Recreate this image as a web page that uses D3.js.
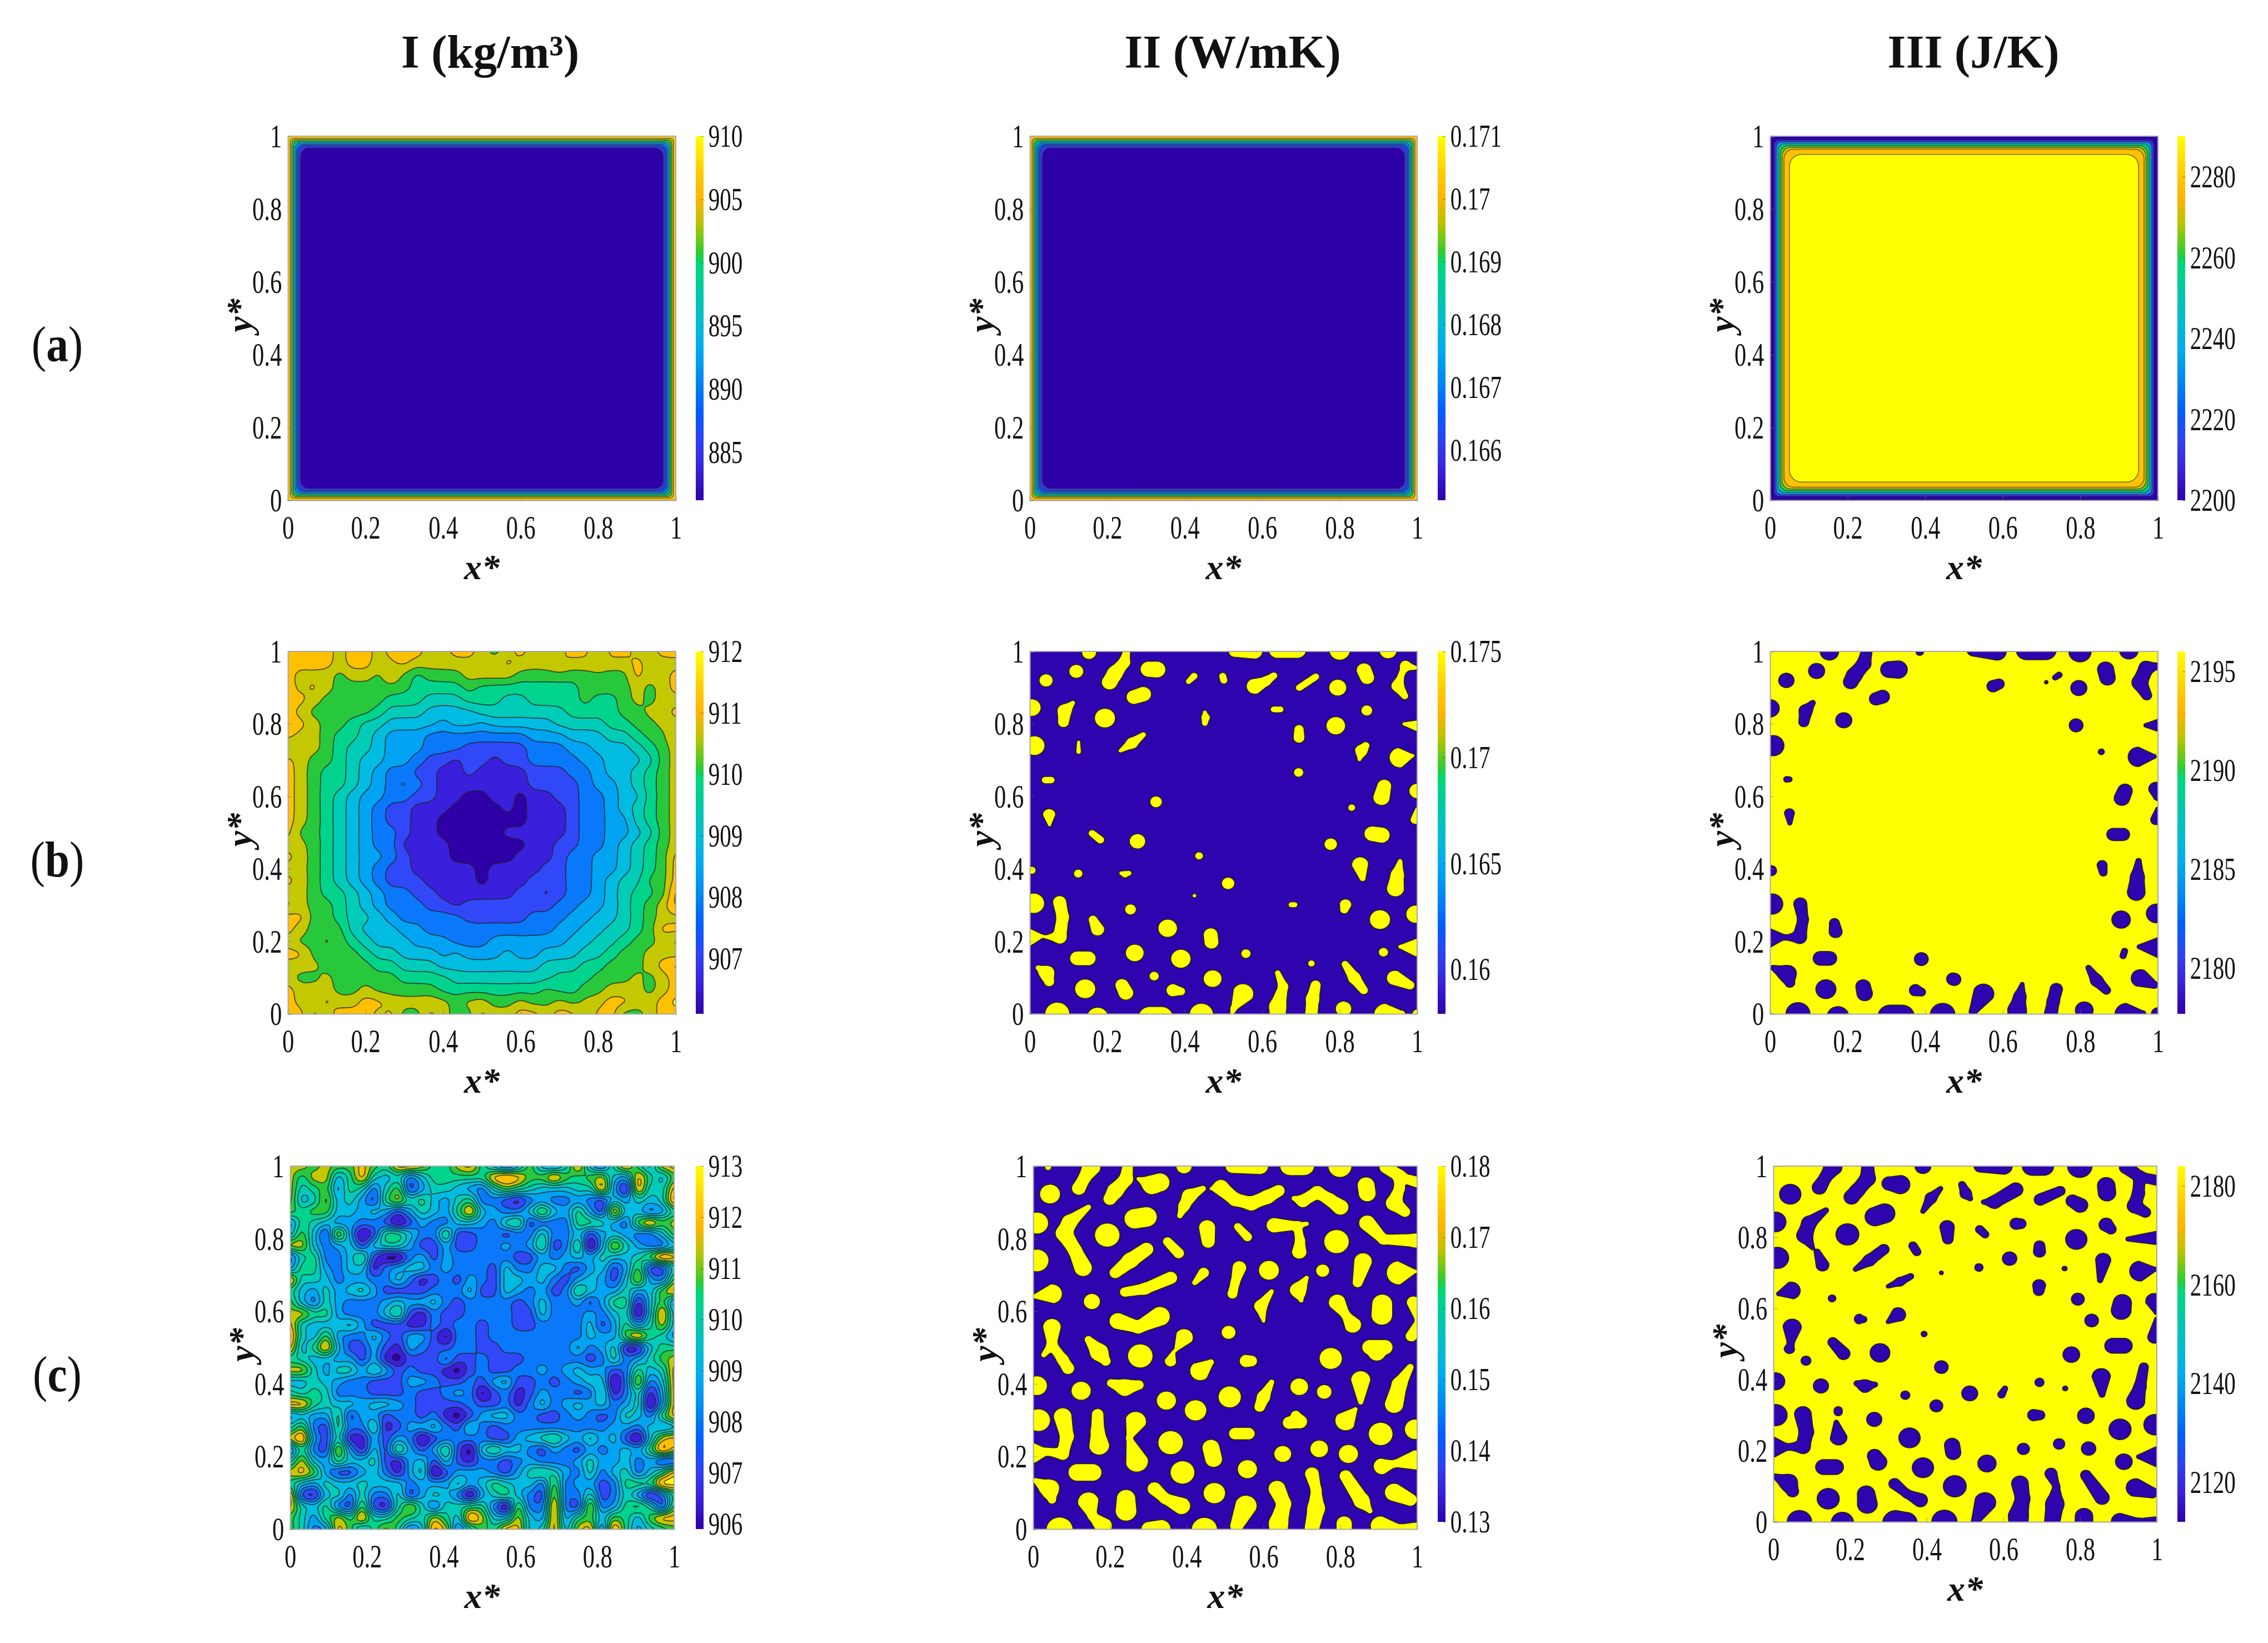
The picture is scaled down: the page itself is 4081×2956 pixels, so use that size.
<!DOCTYPE html>
<html>
<head>
<meta charset="utf-8">
<script src="https://cdn.jsdelivr.net/npm/d3@7"></script>
<style>
body { margin: 0; background: #fff; }
text { font-family: "Liberation Serif", serif; fill: #111; }
</style>
</head>
<body>
<script>
var columnTitles = ["I (kg/m³)", "II (W/mK)", "III (J/K)"];
var rowLetters = ["a", "b", "c"];
var unitTicks = [0, 0.2, 0.4, 0.6, 0.8, 1];

// colorbars, row by row: [bottom, top] and labelled ticks
var barDomains = [[881.2, 910], [0.1652, 0.171], [2200, 2290],
                  [906.1, 912], [0.1579, 0.175], [2177.7, 2196],
                  [905.9, 913], [0.13, 0.18], [2112, 2184]];
var barTicks = [[885, 890, 895, 900, 905, 910], [0.166, 0.167, 0.168, 0.169, 0.17, 0.171], [2200, 2220, 2240, 2260, 2280],
                [907, 908, 909, 910, 911, 912], [0.16, 0.165, 0.17, 0.175], [2180, 2185, 2190, 2195],
                [906, 907, 908, 909, 910, 911, 912, 913], [0.13, 0.14, 0.15, 0.16, 0.17, 0.18], [2120, 2140, 2160, 2180]];
var barStops = [0, 0.08, 0.156, 0.25, 0.325, 0.42, 0.49, 0.57, 0.65, 0.68, 0.76, 0.83, 0.9, 1];
var barColors = ["#2e00a8", "#3a20d8", "#3040f0", "#0060ff", "#0088f0", "#00acf0", "#00bcd0", "#00c8a8", "#00d878", "#30cc30", "#b8c400", "#ffb400", "#ffcc00", "#ffff00"];

// filled contour bands, low to high
var bandColors = ["#2e00a8", "#3a1fdc", "#3048f8", "#0a78fa", "#00a4f2", "#00bce0", "#00ccb8", "#00d48c", "#28c83c", "#c4c800", "#ffc000", "#ffff00"];
var indigo = "#2e04ae", yellow = "#ffff00";

// row (a): distance from the wall of each contour, and the value it encloses
var wallInsetsI = [0, 0.006, 0.010, 0.014, 0.018, 0.022, 0.026, 0.032];
var wallValuesI = [907, 904, 901, 897, 892, 888, 885, 881.2];
var wallInsetsII = [0, 0.006, 0.010, 0.014, 0.018, 0.022, 0.026, 0.032];
var wallValuesII = [0.1703, 0.1698, 0.169, 0.1682, 0.1672, 0.1665, 0.166, 0.1652];
var wallInsetsIII = [0, 0.011, 0.016, 0.021, 0.026, 0.031, 0.036, 0.05];
var wallValuesIII = [2200, 2212, 2235, 2255, 2262, 2272, 2278, 2290];

// panel I(b): band index read on a 31x31 grid, top row is y*=1
var gridIb = [
"a a a a 9 a a 9 a a a 9 9 a a 9 8 9 a 9 9 9 a a 8 a a 9 9 a a",
"a a a a 9 a a 9 9 a 9 9 9 9 9 9 9 a 9 9 9 a 9 9 a 9 9 a 9 9 9",
"a 9 9 9 8 9 9 8 a 8 7 8 8 8 9 9 9 9 8 8 8 8 8 8 8 8 8 a 9 9 a",
"a 9 a 9 8 8 8 8 8 8 7 7 7 7 8 7 7 7 7 7 7 7 7 8 8 8 8 9 8 9 a",
"a a 9 8 8 8 8 8 7 7 7 6 6 6 7 7 7 6 6 7 7 7 7 8 7 7 8 9 8 9 9",
"a 9 8 8 8 8 8 7 6 6 6 5 5 5 5 6 6 6 6 6 6 6 7 7 7 7 8 8 9 9 a",
"a a 9 8 8 7 6 6 5 5 5 5 4 5 5 4 5 5 5 5 5 6 6 6 6 7 7 8 8 9 9",
"a 9 9 8 7 7 6 5 4 4 4 3 3 3 3 3 3 3 3 4 4 4 5 5 5 6 6 7 8 8 a",
"8 9 9 8 7 6 6 5 4 4 4 3 3 3 2 2 2 2 2 3 3 3 4 4 5 5 5 6 7 8 9",
"a 9 8 8 7 6 5 5 4 4 3 2 2 1 2 2 1 2 2 3 3 3 3 4 4 5 5 5 6 8 9",
"a 9 8 7 7 6 5 4 3 3 2 2 1 1 2 1 1 1 1 2 2 2 3 3 4 5 5 6 7 8 9",
"a 9 8 7 7 6 5 4 3 4 3 2 1 1 1 1 1 1 1 2 2 2 2 3 4 4 5 6 7 8 9",
"a 9 8 7 6 5 4 4 3 3 2 2 1 1 0 0 1 1 0 1 1 2 2 3 3 4 5 5 7 8 9",
"a 9 8 7 6 5 4 3 2 2 1 1 1 0 0 0 0 1 0 1 1 1 2 3 3 4 5 6 7 8 9",
"a 9 8 7 6 5 4 3 2 2 1 1 0 0 0 0 0 0 0 1 1 1 2 3 3 4 4 6 7 8 9",
"a 8 8 7 6 5 4 3 3 2 1 1 0 0 0 0 0 1 1 1 1 1 2 3 3 4 4 5 6 8 9",
"9 9 8 7 6 5 4 3 3 1 1 1 1 0 0 0 0 0 0 1 1 2 2 3 3 4 5 6 7 8 9",
"a 9 8 7 6 5 4 4 3 2 1 1 1 0 0 0 0 0 1 1 1 2 3 3 4 4 5 6 7 8 a",
"9 9 8 7 6 5 4 3 2 2 1 1 1 1 1 0 1 1 1 1 2 2 3 3 4 4 5 6 7 8 a",
"a 9 8 7 6 5 4 3 2 2 2 1 1 1 1 0 1 1 1 2 2 2 3 3 4 5 6 6 8 8 a",
"9 9 8 7 7 6 5 4 3 3 2 2 1 1 1 1 1 1 2 2 1 2 3 3 4 5 6 7 7 8 b",
"8 9 8 8 7 6 5 4 3 3 3 2 2 1 2 2 2 2 2 2 2 3 3 4 4 5 6 7 8 9 b",
"a a 8 8 7 6 6 5 4 3 3 3 3 3 2 2 2 2 2 3 3 3 4 4 5 5 6 7 8 9 9",
"a 9 8 8 8 6 5 5 5 4 4 3 3 3 3 3 3 3 3 3 3 4 4 5 5 6 6 7 8 a a",
"9 8 8 9 8 7 6 5 5 5 4 4 4 3 3 3 4 4 4 4 4 4 5 5 6 6 7 8 8 9 8",
"a a 8 8 8 8 7 6 6 5 5 5 4 5 4 4 4 5 4 4 5 5 5 6 6 7 8 8 9 9 9",
"9 9 9 8 8 8 8 7 7 6 6 6 5 5 5 5 5 5 5 5 6 6 6 7 7 8 8 8 9 a b",
"9 8 8 9 8 8 8 8 8 7 7 7 7 6 6 6 6 6 6 6 6 7 7 7 8 8 8 9 8 9 a",
"a 9 9 9 8 8 9 8 8 8 8 8 7 7 7 7 7 7 7 7 8 7 7 8 8 9 9 9 8 9 a",
"a 9 9 a 9 9 a a 9 9 9 9 9 8 9 9 8 8 9 8 8 9 8 9 9 a a 9 9 a b",
"a a 8 9 a a a 9 a 8 8 a 9 8 8 a 9 9 a a 9 a a 8 a a 8 8 9 a a"];

// panel I(c): band index read on a 33x33 grid
var gridIc = [
"9 9 8 9 8 8 a 8 7 a a 9 7 7 9 a 7 5 3 5 8 5 4 6 a 5 3 7 a 7 5 9 a",
"9 7 9 9 5 7 a 6 5 6 3 5 7 7 7 7 7 a b a 8 8 a 8 7 8 9 5 4 a 7 5 8",
"9 6 7 8 4 7 6 3 6 8 2 4 6 6 5 4 3 6 8 7 6 5 5 5 6 6 a 4 1 a 6 6 a",
"9 5 6 9 5 6 4 2 7 9 6 7 5 4 6 7 3 3 2 1 3 4 3 3 4 3 2 5 4 6 5 6 b",
"8 7 8 8 5 5 4 5 4 2 4 6 5 4 7 a 5 4 3 3 5 8 5 4 7 4 2 a 5 5 3 4 7",
"4 7 6 5 4 4 3 3 2 0 2 4 3 3 5 5 4 3 6 7 2 3 3 3 7 7 6 4 3 8 a 8 9",
"5 8 5 2 9 4 0 2 7 7 5 3 3 7 2 2 3 3 2 3 3 6 3 3 5 2 4 5 4 3 3 5 8",
"9 9 5 3 4 5 2 5 6 6 4 2 2 4 2 2 3 3 4 3 4 7 2 3 7 0 4 9 6 4 3 3 5",
"3 6 7 3 3 5 7 2 0 0 3 4 2 4 3 3 3 3 3 2 2 4 3 4 5 4 6 5 5 6 8 b a",
"4 7 7 4 3 5 5 1 3 4 5 5 3 4 3 3 3 2 5 3 3 5 5 3 2 4 5 2 4 8 2 2 6",
"a 6 6 5 3 4 4 3 3 5 3 1 2 3 2 4 3 2 5 5 4 5 3 2 4 5 4 2 5 9 4 3 8",
"7 5 4 6 4 5 6 4 2 2 2 2 3 3 3 5 2 2 5 4 3 4 2 3 7 5 4 4 6 4 5 8 a",
"8 5 3 6 4 3 3 3 4 5 4 4 5 3 2 3 3 3 3 2 3 5 3 3 4 2 4 7 7 1 5 8 4",
"9 9 7 7 4 3 3 3 5 7 2 1 3 2 2 3 3 3 3 2 2 5 3 3 3 4 3 5 6 0 5 a 5",
"a 6 5 5 5 6 4 2 2 2 1 1 3 2 3 3 2 3 3 2 2 3 3 3 3 5 2 4 7 4 6 9 5",
"b 6 5 8 4 3 3 5 3 2 4 4 2 0 3 3 2 3 3 3 3 3 3 3 3 5 4 4 8 a 7 6 4",
"a 5 7 a 5 2 2 4 2 1 4 3 2 2 3 3 2 2 3 3 3 3 3 3 5 3 4 6 1 1 5 7 7",
"7 6 5 5 4 4 2 4 1 0 2 2 2 4 2 2 3 2 2 2 3 3 3 3 3 2 3 6 3 4 6 8 9",
"9 9 6 4 6 6 4 6 4 2 3 2 2 1 0 2 3 2 2 3 3 4 3 4 5 4 4 2 3 7 5 6 a",
"5 5 6 5 4 3 3 2 2 2 4 4 3 2 2 3 2 4 5 2 2 3 2 3 4 5 5 0 3 9 3 5 a",
"7 6 7 6 3 3 3 2 2 2 3 2 2 3 4 3 0 2 3 1 2 4 3 3 2 3 6 1 3 6 1 4 a",
"a a 7 6 5 5 4 5 5 4 3 2 2 2 2 3 2 2 3 1 3 5 3 4 5 4 5 3 4 6 0 4 a",
"4 5 4 4 7 2 4 4 2 3 3 2 3 1 0 2 4 5 5 3 3 2 2 3 4 3 2 3 6 5 3 7 a",
"6 8 3 2 7 3 3 6 1 2 4 4 5 3 2 5 3 2 3 3 3 3 3 3 3 3 3 4 4 3 5 4 5",
"9 b 4 2 6 1 1 4 2 4 3 0 2 3 3 3 3 2 2 4 5 6 7 5 4 6 4 5 2 0 5 9 a",
"3 7 3 2 9 4 1 5 2 7 4 2 4 7 2 0 5 7 5 5 3 2 4 3 2 4 3 4 5 4 7 b 9",
"6 9 5 4 7 5 5 6 2 1 4 5 2 5 2 1 3 3 2 3 4 3 3 3 4 6 4 4 5 3 4 2 2",
"9 a 8 4 2 2 4 5 3 1 4 6 0 2 4 4 4 3 2 4 6 7 6 4 3 6 3 5 6 3 5 7 a",
"7 5 4 6 5 5 6 5 5 5 3 4 4 4 6 4 5 7 6 5 5 3 8 3 4 4 2 3 7 7 7 b b",
"a 2 1 5 6 3 6 3 3 6 2 4 6 5 3 0 4 6 7 5 3 2 9 3 3 6 2 3 6 4 1 3 7",
"a 6 5 7 3 2 8 2 1 6 9 6 3 6 6 7 7 3 0 8 3 3 a 3 2 9 3 4 7 8 6 2 8",
"8 6 4 7 9 7 a 6 6 8 7 6 9 7 5 b 9 5 5 9 5 4 a 4 7 8 5 8 7 5 8 a a",
"8 6 3 4 a 8 5 7 9 7 3 5 b 9 3 6 8 7 a a 5 6 a 5 9 a 3 b 7 4 6 7 8"];

// panels with sharp two-colour regions. Each region is a chain of x*, y*, half-width
// in hundredths of the unit square
var regionsIIb = [
[15.3,99.7,1.5],[25,100,.6,24.4,97,1.1,22,94,1.6,20.6,91.5,1.7],[12,94.5,1.5],[30.7,95.1,1.8,32.8,95,1.9],[4.2,92,1.4],
[41,91.7,.4,42.4,93.2,.6],[49.8,93.2,.6,50.1,92,.6],[58.1,90.4,1.8,61,91.8,.9,63,93.3,.6],[69.6,90,.6,73.8,93,.6],
[64,100.5,2,69,100.5,2],[80,100.3,2.3],[52.9,100,1.2,58,100,1.7],[92.5,100.3,1.9],[86.3,94.8,1.6,87.1,92.8,1.5],
[99.4,95.5,.3,97,96,1,96,93.8,.4,95,90.5,1.2,96.8,87.7,.6],[79.5,90,1.9],[26.9,87.4,1.6,29.3,88.2,1.7],[.5,84.5,2],
[11.1,85.8,.3,9,83.6,1.4,8.7,80.5,1.1],[19.4,81.6,2.3],[45.4,81.7,.8,45.2,80.2,.3,45.2,83.2,.2],[63,84,.5,64.7,84,.5],
[87,83.7,1.1],[79,79.5,2.1],[96.6,80,.15,100,79.5,1.2],[69.5,78.5,.9,69.5,76.2,1.1],[1.2,74,2.3],[23.4,72.6,.2,26.4,74.7,1.1,29.3,77,.4],
[12.6,75,.1,12.6,72.3,.3],[85.1,70.2,.2,85.6,72.6,1.2,86.7,74,.7],[95.6,70.7,2.4,98.8,71.2,.2],[69.4,66.6,.9],[4,64.5,.6,5.5,64.5,.6],
[91.5,62.8,1.5,90.8,59.7,1.8],[100,61.5,1.7],[83.1,56.9,.6],[32.6,58.5,1.2],[5,54.9,1.3,5.1,52.1,.1],[100,56.5,.2,99.5,53.6,.9],
[88.4,49.7,1.7,90.8,49.3,1.8],[16.1,49.8,.6,18.2,48,.7],[27.8,47.6,1.7],[77.7,46.8,1.3],[43.7,43.6,.7],[85.3,41.1,1.8,85.9,37.4,.5],
[95.6,42.1,.3,94.9,38.4,1.3,94.4,34.6,1.9],[.5,39.6,.7],[12.5,38.7,.8],[23.6,38.8,.2,25.6,38.8,.2,24.6,38.4,.5],[51.2,36,1.3],[1,30.5,2.4],
[42.5,32.6,.2],[7.7,30.8,1.4,8.5,26.7,1.2,7.7,21.2,1.4,4.3,21.2,.2],[0,21.2,2.1,3.2,21.4,.2],[26,28.8,1.1],[67.5,30.1,.4,68.4,30.1,.4],
[81.5,30.1,1.2,81.2,28.8,.8],[90.4,26,2.3],[99.6,27.5,2.1],[16.3,26,.8,17.5,23.3,1.4],[35.6,23.6,2.1],[46.7,21.8,1.5,46.9,19.8,1.5],
[95.6,18.5,.2,99.6,18.3,2.1],[91.3,17,.9],[12.3,15.3,1.6,15.1,15.3,1.6],[27.1,16.8,2],[39,15.2,2.2],[55.8,16.6,.9],[72.7,13.9,.55],
[2.2,12.7,.4,4.3,11.3,1.6,5,8.9,1],[32.1,10.4,.9],[47.2,9.7,2],[81.4,13.7,.6,83.8,9.9,1.2,86.2,6.5,.8],[94.2,9.9,1.7,98.1,7.9,.9],
[14.3,6.9,2.3],[23.8,7.9,1.4,24.8,5.8,1.6],[37,6.5,1.4,39,6.2,.8],[55,5.5,2.4,52.6,1.4,.4,52.2,0,.2],[64,11.3,.4,65.4,7.5,.9,64,2,1.8,64,0,1.8],
[73.8,7.9,1,73,4.1,1.3,72.7,0,1.3],[81,1.4,1.7],[7.1,0,2.8],[17.5,-1,2.4],[31,-1,2.6,34,-1,2.6],[44.3,-.2,2.7],[92,-.3,2.8,96,0,.6],[100,0,.9]];

var regionsIIc = [
[3.9,99.7,.5],[15.1,99.7,2.1,13.3,96.6,1.2,11.9,93.9,1.5],[24.6,99.7,1.1,24.2,96.4,1.4,21.4,93.2,1.7,20,91,1.4],[27.4,96.5,.2,30.9,94.9,2.2,33,95.5,2.2],
[4.4,92.3,2.3],[39.3,100,1.7],[52,100,1.6,59,100,1.9],[67,100.2,2.4,70.5,100.2,2.4],[79.9,100,2.7],
[91.9,99.7,1.4,95.4,97.3,1.3,95.4,93.9,1,94,89.8,1.7,96.8,87.4,1.1],[95.4,97,.9,100,95.6,1.2],[86.7,94.7,1.9,87,92.5,1.9],
[44.2,93.8,.5,40.7,91.8,1.5,39.3,89,1.1,38.2,86.3,.4],[46.3,93.8,.1,48.8,94.1,1.7,52.6,90.8,1.4,56.8,89.7,1.5,61,91.5,1.5,63.9,93.2,1.3],
[68,91.1,.4,70.2,90.4,1.3,74,92.8,1.3,77.2,90.8,1.3,80,88.7,1.8],[14.4,88.7,.4,9.5,84.6,1.6,8.1,81.5,1.8,10.9,76.8,1.4,13,72,2],
[26.5,85.5,2.4,29.5,86,2.4],[1,84.3,2.6],[19.3,81,2.9],[45.3,83,1.8,45.6,79.2,1.4],[53.3,83.3,.7,55.8,80.5,.9],
[62.8,83.7,1.7,68.8,83.6,.8,69.5,79.5,.9,69.3,76.4,1.6],[71.2,84.1,.3,68.8,83.6,.5],[79,79.2,2.9],[87,84.3,1.8,91.2,79.8,1,99.6,79.5,1.5,101,79.5,1.5],
[35,79.2,.9,37.9,76,1.1],[21.4,70.6,1.2,25.3,74,1.7,29.5,77.1,1.5],[61.4,71.3,2.3],[1,74,2.7],[85.9,73.7,2,84.5,67.9,1],[95.3,70.6,2.9,99.5,71,.2],
[75.4,71.2,1.4],[42.1,67.9,.4,44.4,70.6,1.1],[53.7,72,1.5,52.6,67.9,.8,51.9,64.8,1],[23.9,65.3,1,29.1,66.2,1.2,35.8,69.2,1.4],
[.4,64.1,.3,4.9,64.8,2.3],[71.2,69.2,.3,69.1,65.8,1.8,69.8,63,.3],[15.3,62.7,1.8],[62.1,65.5,.3,59.3,61.4,1.3,60,57.3,.15],
[79.2,62.4,1.9,81.4,59,.8,83.2,56.3,1.9],[90.9,62,2.3,90.8,59,2.4],[99,62.4,1.4,100,57.6,.2],[100,57.3,.2,98.5,53.2,1.2],
[22.1,57.3,1.9,27.4,55.6,1.3,33,58.6,2.3],[4.9,55.6,2,4.9,50.8,.9,2.8,48,.4],[4.9,50.8,.9,7.7,46.7,1.1,9.1,44.3,1.3],[50.9,54.2,1.5],
[39.3,52.8,2,37.2,49.4,.2],[14.4,52.2,.7,17.2,48.7,2,18.9,46.3,1],[87.7,50.1,1.7,91.6,50.1,1.7],[89.5,48.7,2],[27.9,47.7,2.9],
[36.5,48.7,.2,35.8,46.3,1.2],[77.5,47,2.6],[55.5,46.3,1.4,56.8,46.3,1.2],[46.3,46,.5,43.5,43.6,2.3],[85.3,41,2.2,85.3,35,.4],
[98.2,44.6,.6,95.4,39.9,1.6,94,34.4,2.1],[1,39.5,2.3],[12.5,38.1,2.2],[20.3,40.2,.8,23.9,39,1.9,27.5,39.7,1],[69.3,39.2,2],[75.8,37.8,1.6],
[51.2,36.4,2.6],[62.1,40.5,.4,60,36.4,1.3,59,33.7,1.1],[34.7,35.4,2.2],[42.3,32.7,2.5],[83.9,33,.3,81.4,29.9,2.4],
[66.7,29.3,1.4,69.5,29.6,1.4,68.4,31.3,1],[1.4,30,2.7],[7.7,31,2,8.8,25.5,1.4,7.7,20.7,1.2,3.5,21.4,.7],[.4,21,2.4,3.5,21.2,.6],
[16.8,31.6,1.2,16.8,26.9,1.4,17.2,23.1,2.3],[26.7,29.6,2.4,25,25.1,.4,27,18.7,2.6],[35.8,23.8,2.9],[52.6,26.3,1.3,56.1,26.3,1.3],
[90.5,26.2,2.8],[99.5,27.5,2.4],[46.3,22.4,1.9,47,19.3,1.9],[65,20.7,1.9],[74.5,22.1,2],[82.1,20.7,2.2],[90.9,17.3,1.9,94,18,.6,99.6,19,2.4],
[11.5,15.6,2,15.5,15.6,2],[38.9,15.6,2.8],[55.8,16.5,2.2],[.4,13.5,.3,4.2,11.1,2.2,4.9,8.1,.8],[72.6,15.2,1.5,73.7,10.8,1,73.7,5.7,1.9,72.6,.2,1.6],
[81.4,14.6,1.3,85.6,7.7,1.7,87.7,5,.4],[94,10.1,2.1,98.2,8.1,1.4],[31.6,11.1,1.5,34.4,8.4,1.1,38.6,6.4,2],[47.2,9.9,2.5],
[63.5,11.1,1.9,65.3,7,1.5,63.9,1.6,2.1,63.9,0,2.1],[14.4,7.4,2.4,15.4,3.6,.8,18.2,.9,2],[24.2,8.4,2.1,24.2,5,2.4],[55.4,6.4,2.5,53,.9,1.4],
[6.9,-.2,3.1],[30.2,0,1.7,33.3,0,2.2],[44.6,-.2,3],[81,1.5,1.7,81,-1,1.7],[90.5,.9,2.3,95.4,.2,.7,99.6,.5,1]];

var regionsIIIb = [
[15.3,100,2],[24.9,100,1,24.2,96.6,1.3,21.7,93.4,1.5,20.8,91.6,1.5],[12,94.6,1.7],[30.7,95,1.8,33,95,2],[4.2,92,1.6],[38.6,99.9,.6],
[52.5,100.5,1.4,58.5,100,2],[66.2,100.5,2.4,71,100.5,2.4],[79.9,100,2.5],[92.5,100.3,2],[86.5,95,1.7,87,92.7,1.6],
[100,96,.4,97,95.4,1.4,95.3,91.4,1.5,97.1,87.9,.9],[57.5,90.4,1.2,59,91,1],[73.5,92.8,.3,74.5,93.5,.4],[71.2,91.5,.1],[79.6,89.9,1.7],
[27.3,86.9,1.3,29,87.5,1.4],[0,84.3,2],[11,85.8,.3,9.2,83.6,1.2,8.7,80.5,.9],[19,81,1.7],[78.9,79.6,1.4],[96.9,79.6,.15,100,79.6,1.3],
[.8,74,2.4],[85.4,72.3,.4],[95,70.9,2.3,99,71,.2],[4.3,64.7,.4,5,64.7,.3],[91.5,61.5,1.5,90.7,59.5,1.6],[99.5,62,1.5,100,60,.8],
[5,55.3,.9,5.1,52.6,.15],[100,56.5,.2,99.5,53.6,1],[88.5,49.5,1.3,91,49.5,1.3],[.3,39.5,1],[85.6,41,.9,85.9,39,.6],
[95,42.2,.3,94.7,37.8,1.3,94.4,33.6,1.9],[.5,30.3,2.4],[7.8,30.3,1.3,8.5,26,.9,7.6,21.2,1.3,4,21,.2],[0,21,2.2,3.8,21.2,.2],
[16.6,25,.9,16.9,22.7,1.3],[90.5,26,2],[99.6,27.7,2.2],[95.2,18.5,.2,100,18.3,2.4],[91.4,17.3,.4,91,16,.4],[13,15.3,1.5,15.3,15.3,1.5],[39,15.1,1.4],
[.8,12.7,.3,4.4,11,1.9,5.1,8.6,.9],[47.2,9.6,1.3,47.5,9.5,1.3],[82.1,12.7,.3,84.2,9.2,1.1,86.7,6.5,.7],[95.5,9.8,2,99,8,.6],[14.4,6.8,2.2],
[24,7.5,1.5,24.4,5.6,1.6],[37.5,6.5,1.2,39,6,.7],[55,5.5,2.3,52.3,.6,.6],[65,8.2,.1,64.4,4.8,1.1,63.7,1,1.9,63.7,0,1.9],[73.8,6.8,1.2,73,3.4,1.1,72.4,0,1.3],
[81,1,1.9],[7.2,0,2.7],[17.5,-.8,2.4],[31,-.8,2.8,34,-.8,2.8],[44.5,-.3,2.8],[92,-.2,2.7,96,0,.5],[100,0,1.3]];

var regionsIIIc = [
[39,100,1.7],[15.5,99.7,2,13.7,97,1.1,12,94,1.5],[24.6,99.7,1.2,24.6,96.5,1.5,21.8,93,1.4,20.4,91.3,1.6],[30.2,95.1,1.5,33,94.8,2.2],[4.4,92.1,2.4],
[54,100,1.3,60,100,1.9],[67.5,100,2.2,70.5,100,2.2],[79.9,100,2.8],[92,99.7,1.4,95.5,97,1.1,95.2,92.3,1.1,94.2,88.8,1.4,97,87,1],[95.5,97,.9,100,96,1],
[86.8,94.5,1.9,87,92.5,1.9],[43.6,93.7,.2,41.1,91,1,39,87.3,.2],[49.2,94.8,.5,50.2,92.3,1,51.3,90.9,.3],[54.8,89.9,.2,57.6,89.9,1.3,63.2,93.4,1.5],
[69.6,90.6,1.2,74.8,93,.9],[78,90.2,1.3,80,89,1.6],[26.5,85.8,2.2,29,86.7,2.3],[.5,84.3,2.4],[13.7,87.6,.3,9.3,84,1.4,8.2,80.5,1.6,10.2,77,.15],[19.3,80.8,2.6],
[45.3,82.8,1.5,45.5,79.5,1],[53.8,82.2,.7,55.2,80.8,.6],[63.3,83.8,1.2,64.5,83.8,1],[86.8,83.5,1.5,88,82.3,1],[79,79.4,2.4],[92.5,79.5,.2,100,79.8,1.5],
[36.4,77.6,.7,37.4,75.9,.7],[69.4,77.6,1,69.4,76,1.2],[11.4,75.9,.4,12.8,72.2,1.3],[21.4,71,.2,25,73.5,1.1,28.8,76.6,1],[1,74.2,2.6],[61.6,74,1.5],
[86,73.5,1.6,85.2,67.9,.3],[95.7,70.5,2.4,99.5,71,.2],[53.6,71.5,.7],[43.8,70,.15],[75.9,71.2,.25,76,71.2,.25],[29.9,66.2,.1,33,67.5,.7,35.8,69,.4],
[69.3,66.4,1.3,69.2,65,1],[1.4,64.1,.2,4.6,65,2],[15.3,62.8,.6],[79.4,62.6,1.3],[91,61.5,2,90.7,59.5,2.2],[99.3,62,1.8,100,59,.4],[29.9,56.2,.1,32.5,58.2,1.6],
[22.5,57,1,23.5,56.9,.5],[83,56.6,1.4],[4.9,54.6,2,4.5,50,.4,4.2,48.7,1],[100,57,.2,99.4,52,1.4],[39.3,52.8,.4],[15.5,50.5,.9,18.3,47.3,1.3],[27.8,47.5,2.2],
[88.5,49.5,1.7,91.5,49.5,1.7],[77.7,47,1.8],[8.5,45.3,.9],[43.8,43.5,1.4],[.6,39.5,2],[85.5,40.7,2,85.7,35.8,.4],[96.6,43.5,.8,95.6,37.9,1.1,94.5,34,2],
[12.4,38.2,1.6],[21.8,38.9,.4,23.9,38.2,1.3,26.5,38.6,.3],[69.4,39.2,.8],[76.1,37.5,.3],[51.2,36.1,1.7],[60.4,37.5,.3,59.5,35.8,.6],[34.4,35.6,.8],[42.5,32.6,1.3],
[16.9,31.3,.7,16.9,30.9,.7],[.6,30,2.6],[7.7,30.2,1.8,8.6,25.3,1.4,7.7,21.1,1.4,3.9,21.1,.4],[.3,21,2.4,3.8,21,.4],[26.3,28.8,1.6],[67.9,30,1.2,69.5,30,.9],
[81.5,29.8,1.8],[16.4,28,.2,17,23.8,1.8],[90.4,26,2.5],[99.5,27.3,2.5],[35.5,23.6,2.4],[46.6,21.5,1.6,46.9,19.5,1.6],[74.5,21.9,1.1],[65.2,20.5,1.2],[82.2,20.6,1.5],
[95.3,18.3,.2,99.7,18.3,2.4],[91.4,16.9,1.8],[26.4,18.5,1.5,27.3,16.8,1.9],[13.1,15.4,1.7,16.2,15.4,1.7],[55.7,16.4,2],[39,15.2,2.4],[.4,12.8,.3,3.9,11,1.9,5,8.6,1.2],
[72.4,13.5,1.2,73.8,10,.4,73.4,5.1,1.9,72.7,0,1.6],[81.5,13.1,1,85.7,6.8,1.5],[94.5,9.6,2.1,98.7,8.2,1.1],[31.6,10.7,1.1,34.8,7.9,.7,38.3,6.1,1.5],[47.3,10,2.6],
[64.3,10.7,1.8,65,6.5,1.4,63.9,1.6,2.1,63.9,0,2.1],[14.3,6.5,2.5],[24.2,7.8,1.9,24.5,5,2.2],[55.2,5.4,2.4,52.7,.2,.7],[6.8,0,2.8],[18,-.2,2.5],[32,-.3,3.1,34.5,-.3,2.6],
[44.6,0,2.9],[81,1.5,1.9,81,0,1.9],[90.5,0,2,95.4,0,.5,99.5,0,1]];

var W = 4081, H = 2956;
var svg = d3.select("body").append("svg").attr("width", W).attr("height", H).style("display", "block");
var defs = svg.append("defs");

var colX = [[518, 1216], [1853, 2550], [3185, 3883]];
var rowY = [[245, 900], [1172, 1824], [2098, 2751]];
var barX = [1252, 2587, 3918];
var NARROW = "scale(0.72,1)";

// colormap shared by the walls and the bars
var cmap = d3.scaleLinear().domain(barStops).range(barColors).interpolate(d3.interpolateRgb).clamp(true);

defs.append("linearGradient").attr("id", "bar").attr("x1", 0).attr("x2", 0).attr("y1", 1).attr("y2", 0)
    .selectAll("stop").data(barStops).enter().append("stop")
    .attr("offset", function(d){ return d; })
    .attr("stop-color", function(d, i){ return barColors[i]; });

var ringLine = d3.line().curve(d3.curveBasisClosed);

function panelFrame(col, row){
    var xr = colX[col].slice(), yr = rowY[row].slice();
    if(row == 2 && col == 1) xr[0] = 1859;
    if(row == 2 && col == 2){ xr[0] = 3191; xr[1] = 3881; yr[1] = 2738; }
    if(row == 2 && col == 0){ xr[0] = 522; xr[1] = 1213; }
    return {x: d3.scaleLinear().domain([0, 1]).range(xr), y: d3.scaleLinear().domain([0, 1]).range([yr[1], yr[0]])};
}

function drawWalls(g, x, y, insets, values, domain){
    var t = d3.scaleLinear().domain(domain).range([0, 1]);
    g.selectAll("rect.wall").data(insets).enter().append("rect").attr("class", "wall")
        .attr("x", function(d){ return x(d); })
        .attr("y", function(d){ return y(1 - d); })
        .attr("width", function(d){ return x(1 - d) - x(d); })
        .attr("height", function(d){ return y(d) - y(1 - d); })
        .attr("rx", function(d, i){ return i ? x(0.006 + d * 0.5) - x(0) : 0; })
        .attr("fill", function(d, i){ return cmap(t(values[i])); })
        .attr("stroke", "#333")
        .attr("stroke-opacity", 0.7)
        .attr("stroke-width", 1.5);
}

function catmull(a, b, c, d, t){
    return 0.5 * (2 * b + (c - a) * t + (2 * a - 5 * b + 4 * c - d) * t * t + (3 * b - a - 3 * c + d) * t * t * t);
}

// resample the read grid so that the traced contours come out round
function refine(flat, w, h, k){
    var fw = (w - 1) * k + 1, fh = (h - 1) * k + 1, out = new Array(fw * fh);
    function at(i, j){
        return flat[Math.max(0, Math.min(h - 1, j)) * w + Math.max(0, Math.min(w - 1, i))];
    }
    for(var fj = 0; fj < fh; fj++){
        var j = Math.floor(fj / k), v = fj / k - j;
        for(var fi = 0; fi < fw; fi++){
            var i = Math.floor(fi / k), u = fi / k - i;
            var col = [];
            for(var q = -1; q <= 2; q++){
                col.push(catmull(at(i - 1, j + q), at(i, j + q), at(i + 1, j + q), at(i + 2, j + q), u));
            }
            out[fj * fw + fi] = catmull(col[0], col[1], col[2], col[3], v);
        }
    }
    return {values: out, w: fw, h: fh};
}

// level readings are whole bands, ease them a little so the terraces do not show
function ease(flat, w, h, weight){
    var out = flat.slice();
    for(var j = 1; j < h - 1; j++){
        for(var i = 1; i < w - 1; i++){
            var p = j * w + i;
            out[p] = flat[p] * (1 - 4 * weight) + (flat[p - 1] + flat[p + 1] + flat[p - w] + flat[p + w]) * weight;
        }
    }
    return out;
}

function drawBands(g, x, y, rows, weight){
    var grid = rows.map(function(r){ return r.split(" ").map(function(c){ return parseInt(c, 16); }); });
    var n = grid[0].length, m = grid.length, pad = 2, k = 5;
    var flat = [];
    for(var j = -pad; j < m + pad; j++){
        var rj = grid[Math.max(0, Math.min(m - 1, j))];
        for(var i = -pad; i < n + pad; i++){
            flat.push(rj[Math.max(0, Math.min(n - 1, i))]);
        }
    }
    flat = ease(flat, n + 2 * pad, m + 2 * pad, weight);
    var fine = refine(flat, n + 2 * pad, m + 2 * pad, k);
    var thresholds = d3.range(0.5, bandColors.length - 1, 1);
    var contours = d3.contours().size([fine.w, fine.h]).thresholds(thresholds)(fine.values);
    function toPath(poly){
        return poly.map(function(ring){
            return ringLine(ring.slice(0, -1).map(function(p){
                return [x(((p[0] - 0.5) / k - pad) / (n - 1)), y(1 - ((p[1] - 0.5) / k - pad) / (m - 1))];
            }));
        }).join("");
    }
    g.append("rect").attr("x", x(0)).attr("y", y(1)).attr("width", x(1) - x(0)).attr("height", y(0) - y(1)).attr("fill", bandColors[0]);
    contours.forEach(function(c, q){
        g.append("path")
            .attr("d", c.coordinates.map(toPath).join(""))
            .attr("fill", bandColors[q + 1])
            .attr("fill-rule", "evenodd")
            .attr("stroke", "#222")
            .attr("stroke-opacity", 0.75)
            .attr("stroke-width", 1.8);
    });
}

function drawRegions(g, x, y, regions, ground, ink){
    // rasterise the chains to a signed field, then let d3.contours trace its outline
    var step = 0.25, gw = 416, gh = 416, off = 2, blend = 0.6, edge = -0.4;
    var field = new Float64Array(gw * gh).fill(-1.5);
    regions.forEach(function(chain){
        for(var s = 0; s < Math.max(chain.length - 3, 1); s += 3){
            var ax = chain[s], ay = chain[s + 1], ar = chain[s + 2];
            var bx = chain.length > 3 ? chain[s + 3] : ax, by = chain.length > 3 ? chain[s + 4] : ay, br = chain.length > 3 ? chain[s + 5] : ar;
            var dx = bx - ax, dy = by - ay, len = dx * dx + dy * dy;
            var rm = Math.max(ar, br) + 1.5;
            var i0 = Math.max(0, Math.floor((Math.min(ax, bx) - rm + off) / step));
            var i1 = Math.min(gw - 1, Math.ceil((Math.max(ax, bx) + rm + off) / step));
            var j0 = Math.max(0, Math.floor((Math.min(ay, by) - rm + off) / step));
            var j1 = Math.min(gh - 1, Math.ceil((Math.max(ay, by) + rm + off) / step));
            for(var j = j0; j <= j1; j++){
                for(var i = i0; i <= i1; i++){
                    var px = i * step - off, py = j * step - off;
                    var t = len ? Math.max(0, Math.min(1, ((px - ax) * dx + (py - ay) * dy) / len)) : 0;
                    var ex = px - ax - t * dx, ey = py - ay - t * dy;
                    var v = ar + t * (br - ar) - Math.sqrt(ex * ex + ey * ey);
                    var a = field[j * gw + i];
                    var h = Math.max(blend - Math.abs(a - v), 0) / blend;
                    field[j * gw + i] = Math.max(a, v) + h * h * blend * 0.25;
                }
            }
        }
    });
    var shape = d3.contours().size([gw, gh]).thresholds([edge])(Array.from(field))[0];
    var d = shape.coordinates.map(function(poly){
        return poly.map(function(ring){
            return ringLine(ring.slice(0, -1).map(function(p){
                return [x(((p[0] - 0.5) * step - off) / 100), y(((p[1] - 0.5) * step - off) / 100)];
            }));
        }).join("");
    }).join("");
    g.append("rect").attr("x", x(0)).attr("y", y(1)).attr("width", x(1) - x(0)).attr("height", y(0) - y(1)).attr("fill", ground);
    g.append("path").attr("d", d).attr("fill", ink).attr("fill-rule", "evenodd").attr("stroke", "#222").attr("stroke-width", 1.6);
}

function styleUnitAxis(sel){
    sel.select(".domain").attr("stroke", "#a8a8b0").attr("stroke-width", 2);
    sel.selectAll("line").attr("stroke", "#777").attr("stroke-opacity", 0.6);
    sel.selectAll("text").attr("font-size", 59).attr("fill", "#111").attr("transform", NARROW);
}

rowLetters.forEach(function(letter, row){
    columnTitles.forEach(function(title, col){
        var f = panelFrame(col, row);
        var x = f.x, y = f.y;
        var idx = row * 3 + col;
        var id = "clip" + idx;
        defs.append("clipPath").attr("id", id).append("rect")
            .attr("x", x(0)).attr("y", y(1)).attr("width", x(1) - x(0)).attr("height", y(0) - y(1));
        var g = svg.append("g").attr("clip-path", "url(#" + id + ")");

        if(idx == 0) drawWalls(g, x, y, wallInsetsI, wallValuesI, barDomains[0]);
        if(idx == 1) drawWalls(g, x, y, wallInsetsII, wallValuesII, barDomains[1]);
        if(idx == 2) drawWalls(g, x, y, wallInsetsIII, wallValuesIII, barDomains[2]);
        if(idx == 3) drawBands(g, x, y, gridIb, 0.12);
        if(idx == 6) drawBands(g, x, y, gridIc, 0.05);
        if(idx == 4) drawRegions(g, x, y, regionsIIb, indigo, yellow);
        if(idx == 5) drawRegions(g, x, y, regionsIIIb, yellow, indigo);
        if(idx == 7) drawRegions(g, x, y, regionsIIc, indigo, yellow);
        if(idx == 8) drawRegions(g, x, y, regionsIIIc, yellow, indigo);

        var fmt = function(d){ return d3.format("~g")(d); };

        var ax = svg.append("g").attr("transform", "translate(0," + y(0) + ")")
            .call(d3.axisBottom(x).tickValues(unitTicks).tickFormat(fmt).tickSize(-8));
        ax.call(styleUnitAxis);
        ax.selectAll("text").attr("y", 69).attr("dy", 0);

        var ay = svg.append("g").attr("transform", "translate(" + x(0) + ",0)")
            .call(d3.axisLeft(y).tickValues(unitTicks).tickFormat(fmt).tickSize(-8));
        ay.call(styleUnitAxis);
        ay.selectAll("text").attr("x", -15).attr("dy", "0.33em");

        // top and right edges of the box
        svg.append("path").attr("fill", "none").attr("stroke", "#a8a8b0").attr("stroke-width", 2)
            .attr("d", "M" + x(0) + "," + y(1) + "H" + x(1) + "V" + y(0));

        // axis names
        svg.append("text").attr("x", (x(0) + x(1)) / 2 - 0).attr("y", y(0) + 142)
            .attr("text-anchor", "middle").attr("font-size", 64).attr("font-weight", "bold").attr("font-style", "italic").text("x*");
        svg.append("text").attr("transform", "translate(" + (x(0) - 66) + "," + ((y(0) + y(1)) / 2 - 5) + ") rotate(-90)")
            .attr("text-anchor", "middle").attr("font-size", 64).attr("font-weight", "bold").attr("font-style", "italic").text("y*");

        // colorbar
        var barBottom = (row == 2 && col == 1) ? 2738 : y(0);
        var barScale = d3.scaleLinear().domain(barDomains[idx]).range([barBottom, y(1)]);
        svg.append("rect").attr("x", barX[col]).attr("y", y(1)).attr("width", 14).attr("height", barBottom - y(1)).attr("fill", "url(#bar)");
        var ab = svg.append("g").attr("transform", "translate(" + (barX[col] + 14) + ",0)")
            .call(d3.axisRight(barScale).tickValues(barTicks[idx]).tickFormat(fmt).tickSize(-5));
        ab.select(".domain").remove();
        ab.selectAll("line").attr("stroke", "#444").attr("stroke-opacity", 0.6);
        ab.selectAll("text").attr("font-size", 57).attr("fill", "#111").attr("x", 12).attr("dy", "0.33em").attr("transform", NARROW);
    });

    var label = svg.append("text").attr("transform", "translate(103," + (rowY[row][0] + 405) + ") scale(0.88,1)")
        .attr("text-anchor", "middle").attr("font-size", 90);
    label.append("tspan").text("(");
    label.append("tspan").attr("font-weight", "bold").text(letter);
    label.append("tspan").text(")");
});

var titleX = [882, 2218, 3551];
svg.selectAll("text.title").data(columnTitles).enter().append("text").attr("class", "title")
    .attr("x", function(d, i){ return titleX[i]; })
    .attr("y", 122)
    .attr("text-anchor", "middle")
    .attr("font-size", 85)
    .attr("font-weight", "bold")
    .text(function(d){ return d; });
</script>
</body>
</html>
